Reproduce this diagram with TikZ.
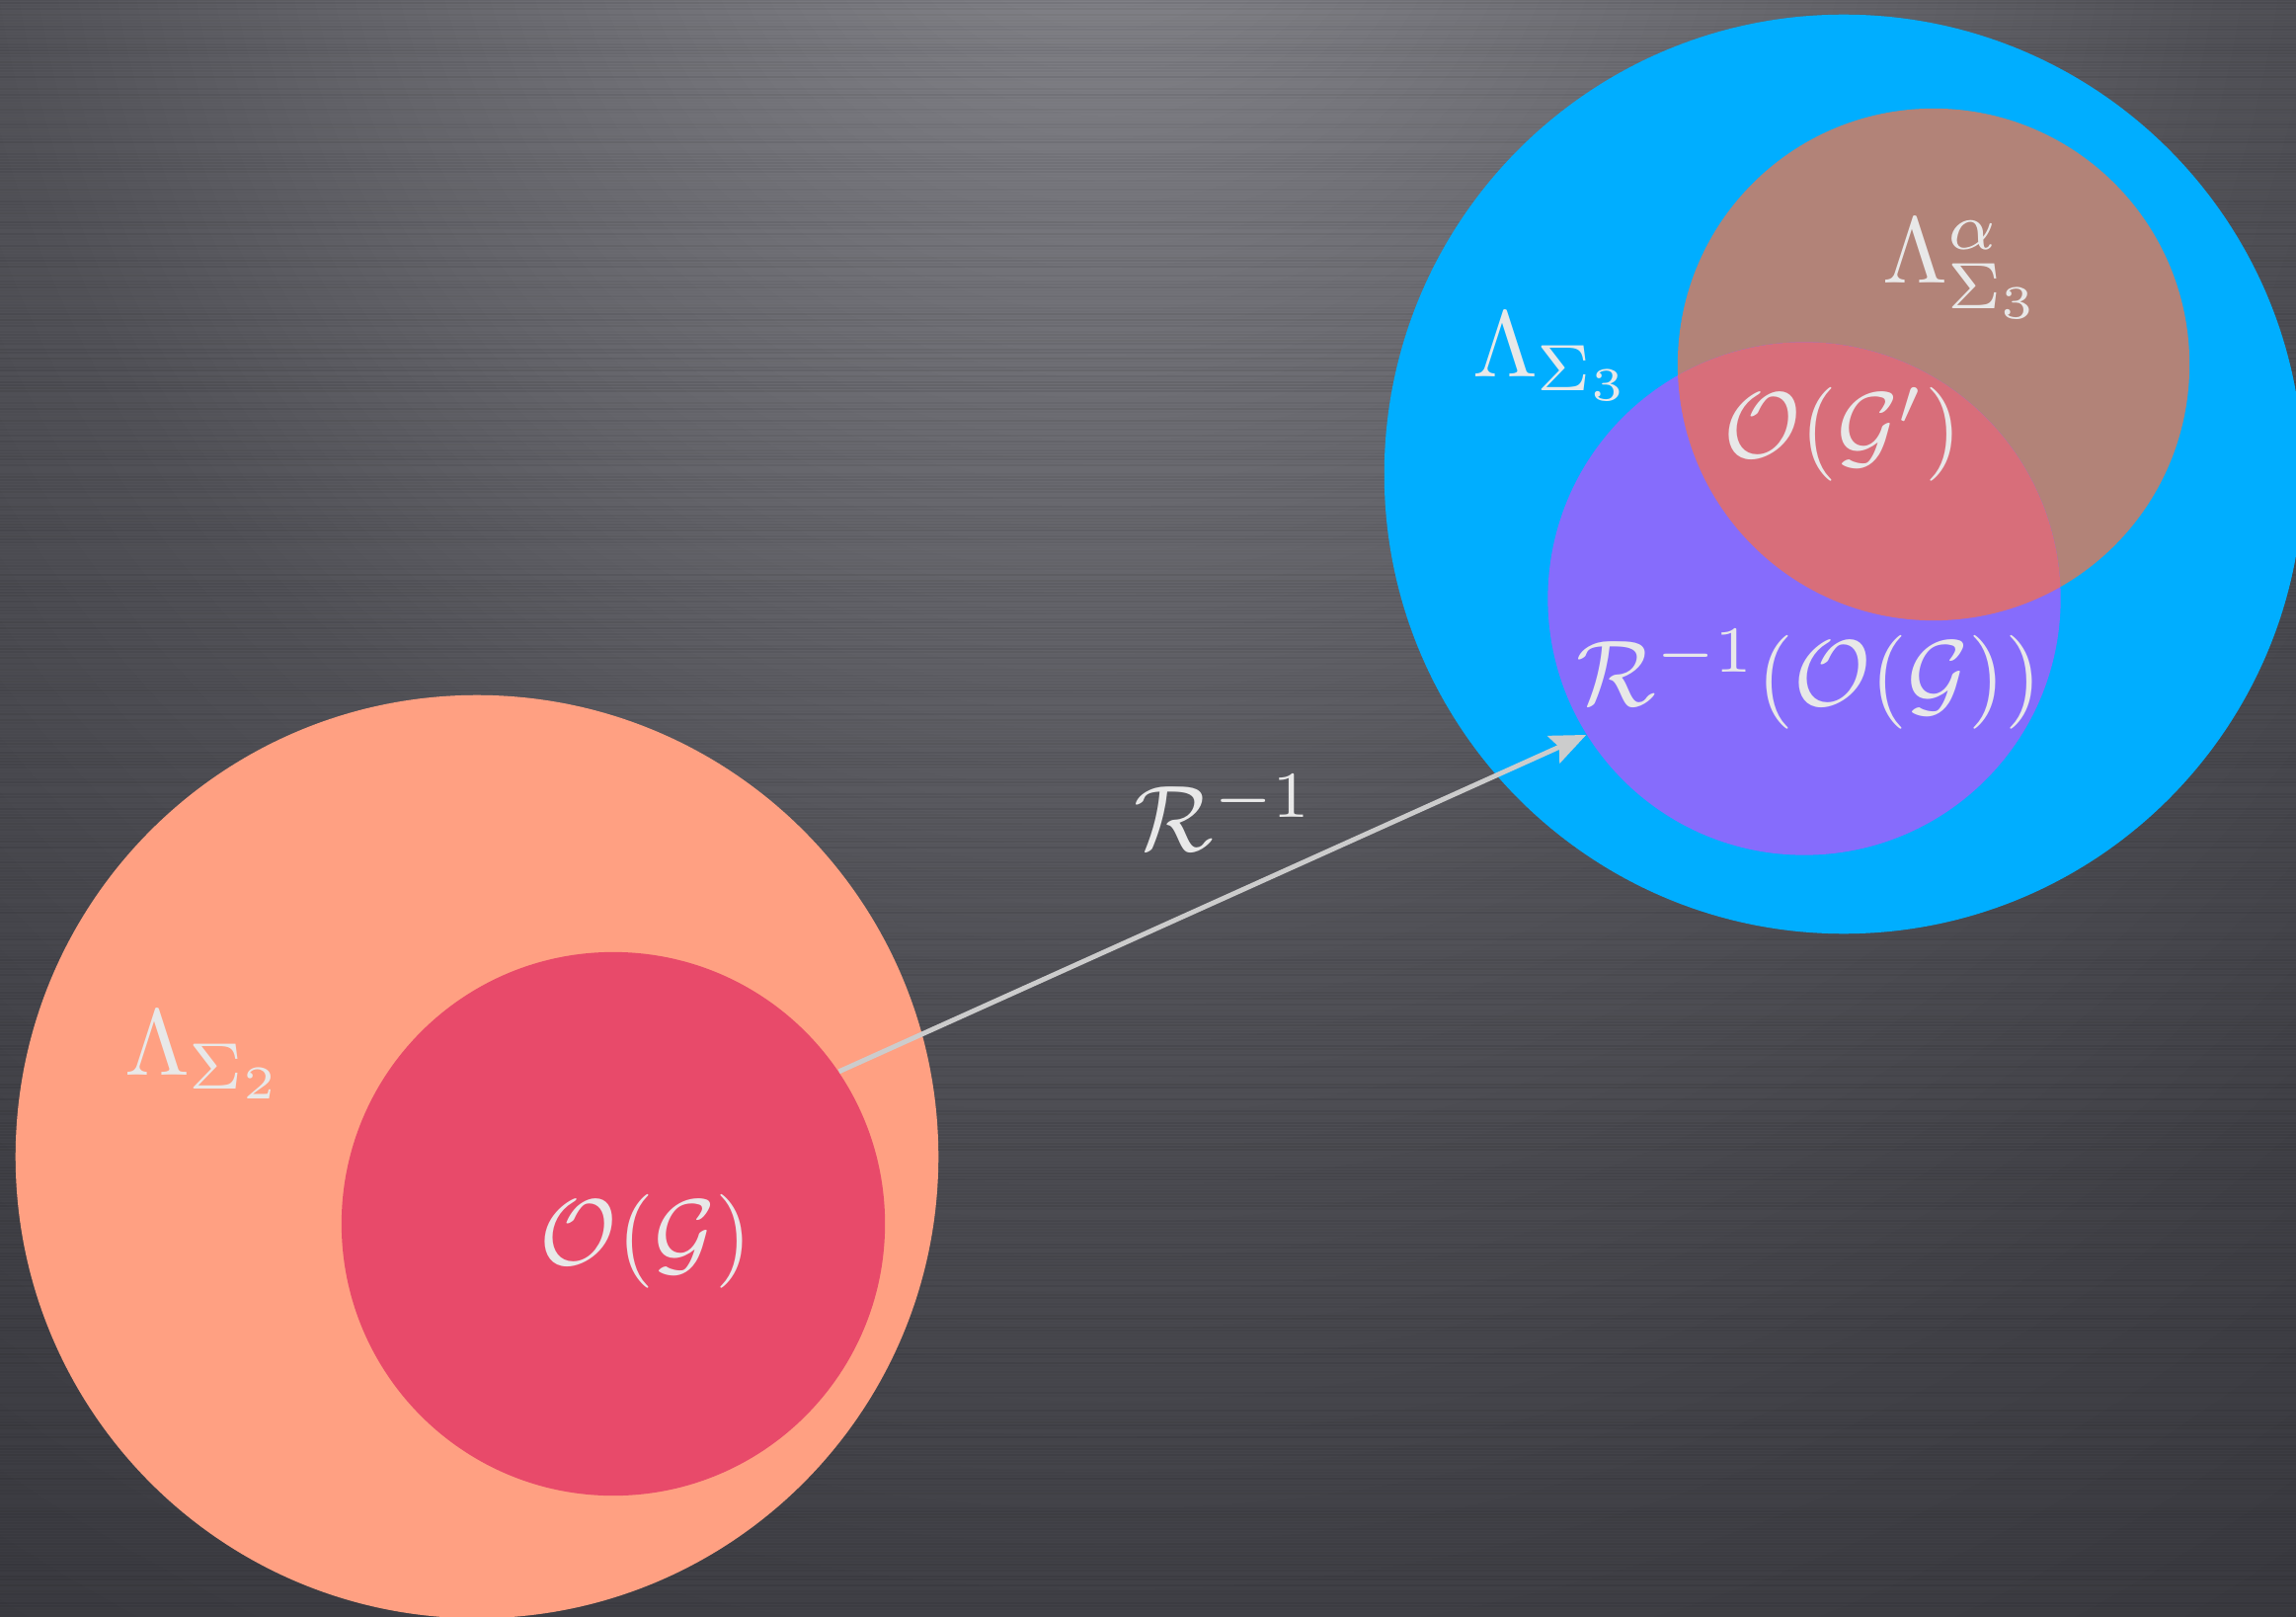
\documentclass[tikz,border=0pt]{standalone}
\usepackage{amsmath,amssymb}
\usepackage{graphicx}
\usepackage{xcolor}
\usetikzlibrary{arrows.meta,positioning}
\definecolor{bgA}{RGB}{134,134,140}
\definecolor{bgB}{RGB}{128,128,134}
\definecolor{bgC}{RGB}{100,100,106}
\definecolor{bgD}{RGB}{82,82,88}
\definecolor{bgE}{RGB}{65,65,71}
\definecolor{bgF}{RGB}{57,57,63}
\definecolor{salmon}{RGB}{255,160,130}
\definecolor{orbred}{RGB}{232,74,106}
\definecolor{skyblue}{RGB}{0,174,255}
\definecolor{rosebrown}{RGB}{178,131,120}
\definecolor{violet}{RGB}{134,108,252}
\definecolor{capred}{RGB}{216,110,122}
\definecolor{txtgray}{RGB}{232,232,232}
\definecolor{arrgray}{RGB}{204,204,204}
\pgfdeclareradialshading{metal}{\pgfpoint{0bp}{0bp}}{color(0bp)=(bgA); color(2bp)=(bgB); color(9bp)=(bgC); color(13bp)=(bgD); color(20bp)=(bgE); color(25bp)=(bgF); color(50bp)=(bgF)}
\newcommand{\setlabel}[1]{\scalebox{2.7}{$#1$}}
\tikzset{
  setcirc/.style={circle, inner sep=0pt, minimum size=#1},
  lbl/.style={text=txtgray, inner sep=0pt},
  maparr/.style={-{Stealth[length=0.36cm, width=0.3cm, inset=0.06cm]}, draw=arrgray, line width=1.4pt},
}

\begin{document}
\begin{tikzpicture}[x=0.01cm, y=-0.01cm]
  \useasboundingbox (0,0) rectangle (2325,1637);
  \clip (0,0) rectangle (2325,1637);
  % brushed metal background
  \shade[shading=metal] (1120,-180) circle[radius=22cm];
  \pgfmathsetseed{11}
  \foreach \i in {0,...,545} {
    \pgfmathsetmacro\op{0.08*rnd}
    \draw[black, opacity=\op, line width=0.4pt] (0,3*\i) -- (2325,3*\i);
  }
  % left: Sigma_2 side
  \node[setcirc=9.34cm, fill=salmon] (lsig2) at (483,1171) {};
  \node[setcirc=5.5cm, fill=orbred] (og) at (621,1239) {};
  % right: Sigma_3 side
  \node[setcirc=9.3cm, fill=skyblue] (lsig3) at (1867,480) {};
  \node[setcirc=5.18cm, fill=rosebrown] (lalpha) at (1958,369) {};
  \node[setcirc=5.19cm, fill=violet] (rinv) at (1827,606) {};
  \begin{scope}
    \clip (rinv.center) circle[radius=2.595cm];
    \fill[capred] (lalpha.center) circle[radius=2.59cm];
  \end{scope}
  % labels
  \node[lbl] (lsig2lbl) at (207,1068) {\setlabel{\Lambda_{\Sigma_2}}};
  \node[lbl] (oglbl) at (654,1257) {\setlabel{\mathcal{O}(\mathcal{G})}};
  \node[lbl] (rlbl) at (1240,823) {\setlabel{\mathcal{R}^{-1}}};
  \node[lbl] (lsig3lbl) at (1572,361) {\setlabel{\Lambda_{\Sigma_3}}};
  \node[lbl] (lalphalbl) at (1987,272) {\setlabel{\Lambda_{\Sigma_3}^{\alpha}}};
  \node[lbl] (ogplbl) at (1866,440) {\setlabel{\mathcal{O}(\mathcal{G}')}};
  \node[lbl] (rinvlbl) at (1832,688) {\setlabel{\mathcal{R}^{-1}(\mathcal{O}(\mathcal{G}))}};
  % the map
  \draw[maparr] (og.34) -- (rinv.212);
\end{tikzpicture}
\end{document}
